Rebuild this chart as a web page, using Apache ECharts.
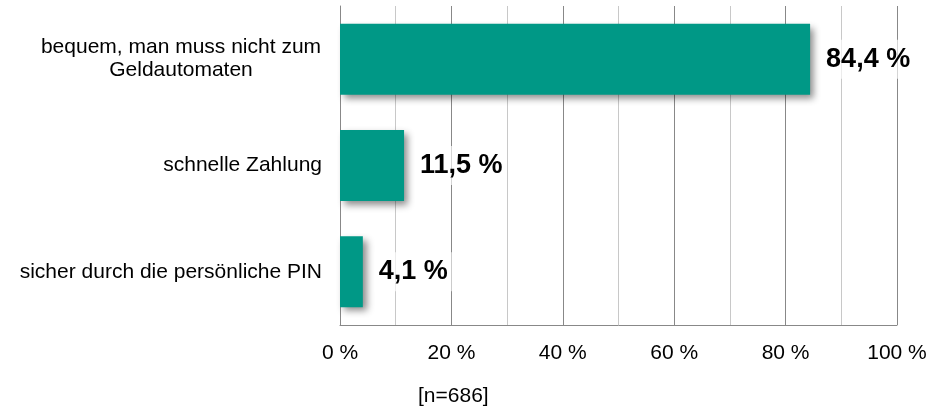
<!DOCTYPE html>
<html>
<head>
<meta charset="utf-8">
<script src="https://cdn.jsdelivr.net/npm/echarts@6/dist/echarts.min.js"></script>
<style>
  html, body { margin: 0; padding: 0; background: #fff; }
  #chart { width: 939px; height: 407px; }
</style>
</head>
<body>
<div id="chart"></div>
<script>
const categories = ['bequem, man muss nicht zum\nGeldautomaten', 'schnelle Zahlung', 'sicher durch die persönliche PIN'];
const values = [84.4, 11.5, 4.1];
const tickLabels = [0, 20, 40, 60, 80, 100];
const sampleNote = '[n=686]';

const chart = echarts.init(document.getElementById('chart'));
const font = 'Liberation Sans, Arial, sans-serif';

chart.setOption({
  animation: false,
  grid: { left: 340, right: 42, top: 6, bottom: 82 },
  xAxis: {
    type: 'value',
    min: 0,
    max: 100,
    interval: 10,
    axisLine: { show: true, lineStyle: { color: '#888', width: 1 } },
    axisTick: { show: false },
    splitLine: { show: true, lineStyle: { color: ['#888', '#c8c8c8'], width: 1 } },
    axisLabel: {
      margin: 18,
      color: '#000',
      fontFamily: font,
      fontSize: 21,
      formatter: v => tickLabels.includes(v) ? v + ' %' : ''
    }
  },
  yAxis: {
    type: 'category',
    inverse: true,
    data: categories,
    axisLine: { show: true, lineStyle: { color: '#888' } },
    axisTick: { show: false },
    axisLabel: {
      margin: 18,
      color: '#000',
      fontFamily: font,
      fontSize: 21,
      lineHeight: 23,
      formatter: v => v.includes('\n') ? v.split('\n').map(s => '{c|' + s + '}').join('\n') : v,
      rich: {
        c: { width: 282, align: 'center', fontSize: 21, lineHeight: 23, fontFamily: font, color: '#000' }
      }
    }
  },
  series: [{
    type: 'bar',
    data: values,
    barWidth: 71,
    itemStyle: {
      color: '#009886',
      shadowColor: 'rgba(0,0,0,0.45)',
      shadowBlur: 7,
      shadowOffsetX: 4,
      shadowOffsetY: 4
    },
    label: {
      show: true,
      position: 'right',
      distance: 12,
      padding: [6, 4],
      backgroundColor: 'rgba(255,255,255,0.65)',
      color: '#000',
      fontFamily: font,
      fontWeight: 'bold',
      fontSize: 27,
      formatter: p => p.value.toFixed(1).replace('.', ',') + ' %'
    }
  }],
  graphic: [{
    type: 'text',
    left: 418,
    top: 386,
    style: { text: sampleNote, fill: '#000', font: '21px ' + font }
  }]
});
</script>
</body>
</html>
